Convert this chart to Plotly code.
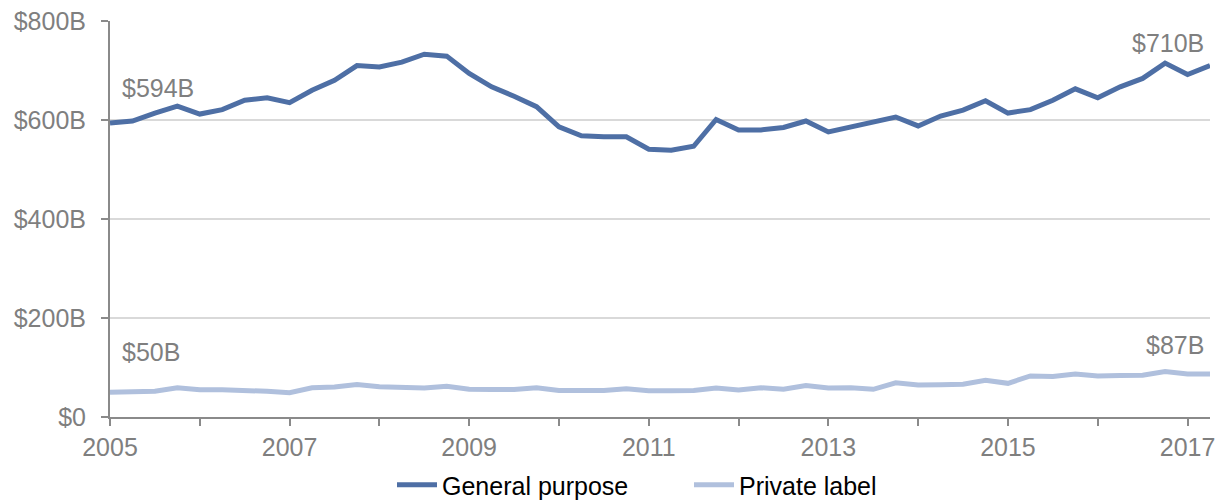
import plotly.graph_objects as go

# Quarterly periods, 2005 Q1 through 2017 Q2
quarters = [2005 + 0.25 * i for i in range(50)]

# Outstanding balances, $ billions
general_purpose = [
    594, 598, 614, 628, 612, 621, 640, 645, 635, 660,
    680, 710, 707, 717, 733, 729, 694, 667, 648, 627,
    586, 568, 566, 566, 541, 539, 547, 601, 580, 580,
    585, 598, 576, 586, 596, 606, 588, 608, 620, 639,
    614, 621, 640, 663, 645, 667, 684, 715, 692, 710,
]
private_label = [
    50, 50.5, 52, 59, 55, 55, 54, 52, 49, 59,
    60.5, 65.5, 61, 60.5, 58.5, 62, 56, 55.5, 55.5, 59,
    53.5, 53.5, 53.5, 57, 53, 53, 53.5, 58.5, 54.5, 59,
    56, 63.5, 58.5, 59, 56, 69, 64.5, 65, 66, 74,
    68, 83, 82, 87, 83, 84, 84.5, 92, 87, 87,
]

y_ticks = [0, 200, 400, 600, 800]
y_tick_text = ["$0", "$200B", "$400B", "$600B", "$800B"]
x_ticks = [2005, 2007, 2009, 2011, 2013, 2015, 2017]
x_tick_text = ["2005", "2007", "2009", "2011", "2013", "2015", "2017"]

DARK = "#4e6fa5"
LIGHT = "#b0c0dd"
AXIS = "#8a8a8a"
TEXT = "#7f7f7f"
FONT = "Liberation Sans, Arial, sans-serif"
SIZE = 25

fig = go.Figure()
fig.add_trace(go.Scatter(
    x=quarters, y=general_purpose, mode="lines", name="General purpose",
    line=dict(color=DARK, width=5), cliponaxis=False,
))
fig.add_trace(go.Scatter(
    x=quarters, y=private_label, mode="lines", name="Private label",
    line=dict(color=LIGHT, width=5), cliponaxis=False,
))

# End-point value labels, placed just above each series
labels = [
    (quarters[0] + 0.11, 664, "$594B", "left"),
    (quarters[0] + 0.11, 132, "$50B", "left"),
    (quarters[-1] - 0.04, 755, "$710B", "right"),
    (quarters[-1] - 0.04, 146, "$87B", "right"),
]
for xq, ypos, text, anchor in labels:
    fig.add_annotation(
        x=xq, y=ypos, text=text, xanchor=anchor, yanchor="middle",
        showarrow=False, font=dict(family=FONT, size=SIZE, color=TEXT),
    )

fig.update_layout(
    width=1221, height=500,
    margin=dict(l=110, r=11, t=21, b=83, autoexpand=False),
    paper_bgcolor="white", plot_bgcolor="white",
    font=dict(family=FONT, size=SIZE, color=TEXT),
    showlegend=True,
    legend=dict(
        orientation="h", xref="container", yref="container",
        x=392 / 1221, xanchor="left", y=0.03, yanchor="middle",
        font=dict(family=FONT, size=SIZE, color="#000000"),
        itemwidth=40, tracegroupgap=0,
        entrywidth=242, entrywidthmode="pixels",
    ),
    xaxis=dict(
        range=[2005, 2017.25], tickvals=x_ticks, ticktext=x_tick_text,
        showgrid=False, zeroline=False, automargin=False,
        showline=True, linecolor=AXIS, linewidth=2,
        ticks="outside", ticklen=7, tickwidth=2, tickcolor=AXIS,
        minor=dict(dtick=1, tick0=2005, ticks="outside", ticklen=7,
                   tickwidth=2, tickcolor=AXIS, showgrid=False),
        tickfont=dict(family=FONT, size=SIZE, color=TEXT),
    ),
    yaxis=dict(
        range=[0, 800], tickvals=y_ticks, ticktext=y_tick_text,
        showgrid=True, gridcolor="#d9d9d9", gridwidth=1.5, zeroline=False,
        automargin=False,
        showline=True, linecolor=AXIS, linewidth=2,
        ticks="outside", ticklen=7, tickwidth=2, tickcolor=AXIS,
        ticklabelstandoff=10,
        tickfont=dict(family=FONT, size=SIZE, color=TEXT),
    ),
)

fig.write_html("out.html")
